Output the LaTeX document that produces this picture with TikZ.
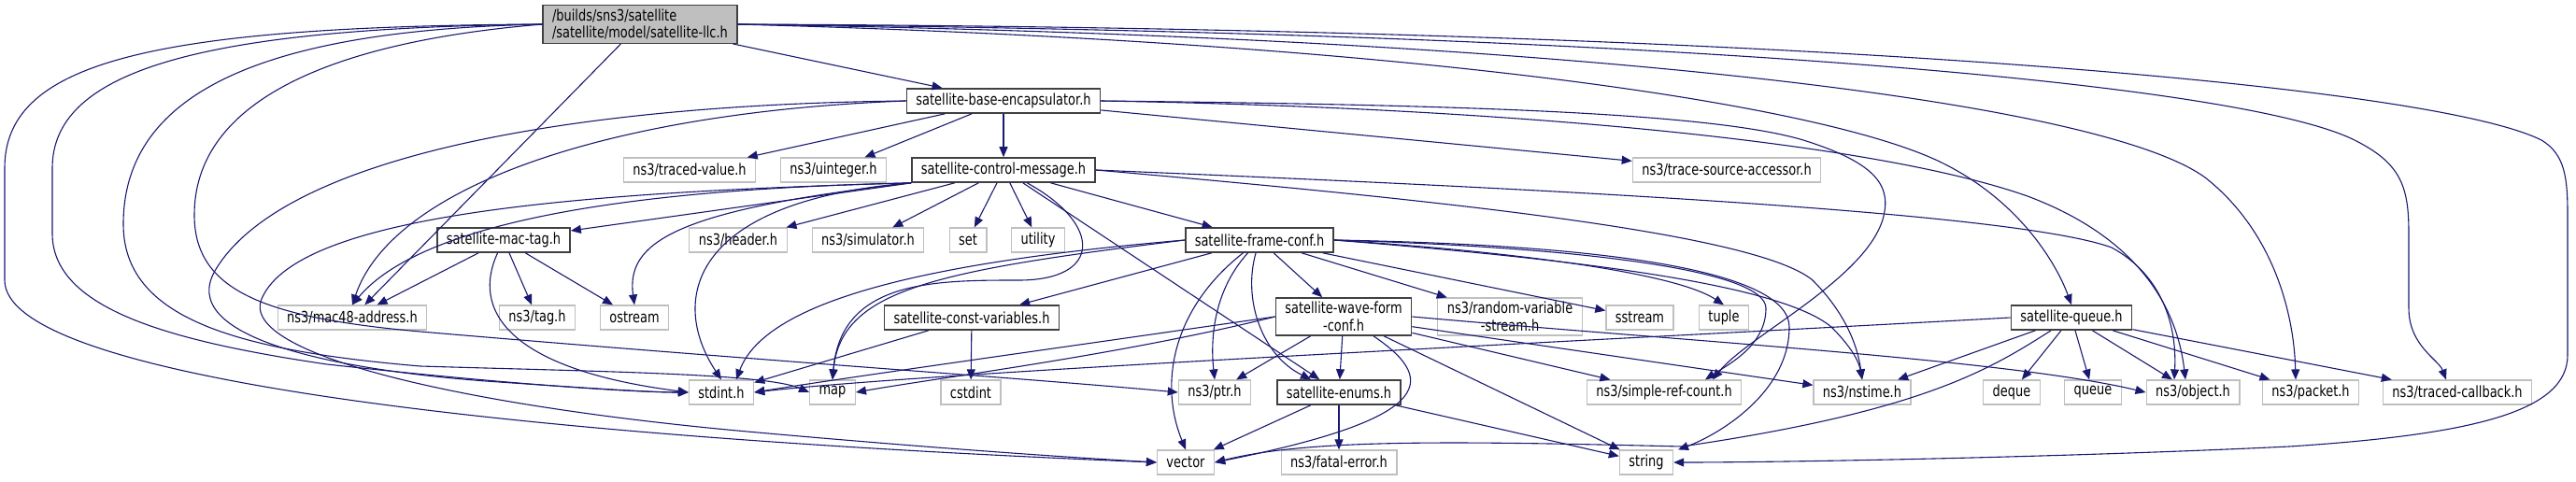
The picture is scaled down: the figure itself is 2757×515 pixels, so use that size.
\documentclass[tikz,border=0pt]{standalone}
\usepackage{fontspec}
\setmainfont{DejaVu Sans}[FakeStretch=0.78]
\usetikzlibrary{arrows.meta}
\definecolor{edgeblue}{HTML}{191970}
\definecolor{boxgrey}{HTML}{BFBFBF}
\definecolor{boxdark}{HTML}{404040}
\tikzstyle{filebox} = [rectangle, minimum height=13pt, inner xsep=5pt, inner ysep=2pt, font=\fontsize{8.3}{9.2}\selectfont, text=black]
\tikzstyle{rootfile} = [filebox, draw=boxdark, fill=boxgrey, line width=0.7pt, align=left]
\tikzstyle{localfile} = [filebox, draw=boxdark, line width=0.8pt, align=center]
\tikzstyle{extfile} = [filebox, draw=boxgrey, line width=0.6pt, align=center]
\tikzstyle{arrow} = [draw=edgeblue, line width=0.55pt, -{Triangle[length=5.5pt,width=4.5pt]}]

\begin{document}
\begin{tikzpicture}[x=0.5pt,y=-0.5pt]
\useasboundingbox (0,0) rectangle (2757,515);
% include graph of satellite-llc.h
\node (root) [rootfile] at (685,26) {/builds/sns3/satellite\\/satellite/model/satellite-llc.h};

\node (baseenc) [localfile] at (1074,108) {satellite-base-encapsulator.h};

\node (tracedval) [extfile] at (738,182) {ns3/traced-value.h};
\node (uinteger) [extfile] at (892,182) {ns3/uinteger.h};
\node (ctrlmsg) [localfile] at (1074,182) {satellite-control-message.h};
\node (tracesrc) [extfile] at (1848,182) {ns3/trace-source-accessor.h};

\node (mactag) [localfile] at (539,257) {satellite-mac-tag.h};
\node (header) [extfile] at (790,257) {ns3/header.h};
\node (simulator) [extfile] at (929,257) {ns3/simulator.h};
\node (setfile) [extfile] at (1036,257) {set};
\node (utility) [extfile] at (1111,257) {utility};
\node (frameconf) [localfile] at (1348,257) {satellite-frame-conf.h};

\node (mac48) [extfile] at (377,340) {ns3/mac48-address.h};
\node (tag) [extfile] at (575,340) {ns3/tag.h};
\node (ostream) [extfile] at (679,340) {ostream};
\node (constvar) [localfile] at (1040,340) {satellite-const-variables.h};
\node (waveform) [localfile, minimum height=20pt] at (1438,339) {satellite-wave-form\\-conf.h};
\node (randvar) [extfile, minimum height=20pt] at (1616,339) {ns3/random-variable\\-stream.h};
\node (sstream) [extfile] at (1755,340) {sstream};
\node (tuple) [extfile] at (1845,340) {tuple};
\node (queue) [localfile] at (2217,340) {satellite-queue.h};

\node (stdint) [extfile] at (772,420) {stdint.h};
\node (map) [extfile] at (891,420) {map};
\node (cstdint) [extfile] at (1039,420) {cstdint};
\node (ptr) [extfile] at (1300,420) {ns3/ptr.h};
\node (enums) [localfile] at (1433,420) {satellite-enums.h};
\node (simpleref) [extfile] at (1781,420) {ns3/simple-ref-count.h};
\node (nstime) [extfile] at (1993,420) {ns3/nstime.h};
\node (deque) [extfile] at (2153,420) {deque};
\node (stdqueue) [extfile] at (2240,420) {queue};
\node (object) [extfile] at (2347,420) {ns3/object.h};
\node (packet) [extfile] at (2473,420) {ns3/packet.h};
\node (tcallback) [extfile] at (2630,420) {ns3/traced-callback.h};

\node (vector) [extfile] at (1269,495) {vector};
\node (fatalerr) [extfile] at (1433,495) {ns3/fatal-error.h};
\node (string) [extfile] at (1762,495) {string};

\draw [arrow] (root) -- (baseenc);
\draw [arrow] (root) -- (mac48);
\draw [arrow] (root.west) .. controls (150,28) and (5,70) .. (5,180) -- (5,300) .. controls (5,400) and (500,465) .. (vector.west);
\draw [arrow] (root.west) .. controls (200,30) and (56,80) .. (56,180) -- (56,250) .. controls (56,330) and (180,365) .. (350,390) .. controls (550,412) and (680,420) .. (stdint.west);
\draw [arrow] (root.west) .. controls (280,32) and (132,100) .. (132,240) .. controls (132,340) and (250,375) .. (450,392) .. controls (650,398) and (820,400) .. (map.west);
\draw [arrow] (root.west) .. controls (350,45) and (208,110) .. (208,230) .. controls (208,310) and (280,340) .. (450,355) .. controls (800,385) and (1100,405) .. (ptr.west);
\draw [arrow] (root.east) .. controls (1500,45) and (1950,110) .. (2080,175) .. controls (2160,215) and (2200,280) .. (queue.north);
\draw [arrow] (root.east) .. controls (1700,40) and (2250,110) .. (2360,190) .. controls (2430,245) and (2455,330) .. ([xshift=-8pt]packet.north);
\draw [arrow] (root.east) .. controls (1800,35) and (2400,90) .. (2520,150) .. controls (2570,175) and (2578,200) .. (2578,250) -- (2578,330) .. controls (2578,370) and (2610,385) .. ([xshift=-6pt]tcallback.north);
\draw [arrow] (root.east) .. controls (1900,30) and (2600,90) .. (2720,150) .. controls (2745,165) and (2748,190) .. (2748,230) -- (2748,380) .. controls (2748,440) and (2650,465) .. (2450,478) .. controls (2200,490) and (1900,495) .. (string.east);

\draw [arrow] (baseenc) -- (tracedval);
\draw [arrow] (baseenc) -- (uinteger);
\draw [arrow] (baseenc) -- (ctrlmsg);
\draw [arrow] (baseenc) -- (tracesrc);
\draw [arrow] (baseenc.west) .. controls (650,120) and (420,200) .. (mac48.north);
\draw [arrow] (baseenc.west) .. controls (600,112) and (300,170) .. (230,290) .. controls (190,360) and (350,395) .. (520,408) .. controls (650,417) and (700,420) .. (stdint.west);
\draw [arrow] (baseenc.east) .. controls (1600,115) and (2000,150) .. (2170,210) .. controls (2290,255) and (2330,330) .. ([xshift=-4pt]object.north);
\draw [arrow] (baseenc.east) .. controls (1550,112) and (1830,120) .. (1930,150) .. controls (2010,175) and (2025,200) .. (2015,235) .. controls (1995,300) and (1870,360) .. ([xshift=26pt]simpleref.north);

\draw [arrow] (ctrlmsg) -- (mactag);
\draw [arrow] (ctrlmsg) -- (header);
\draw [arrow] (ctrlmsg) -- (simulator);
\draw [arrow] (ctrlmsg) -- (setfile);
\draw [arrow] (ctrlmsg) -- (utility);
\draw [arrow] (ctrlmsg) -- (frameconf);
\draw [arrow] (ctrlmsg) -- (enums);
\draw [arrow] (ctrlmsg.south west) .. controls (800,200) and (470,215) .. (mac48.north);
\draw [arrow] (ctrlmsg.south west) .. controls (720,225) and (670,260) .. (ostream.north);
\draw [arrow] (ctrlmsg.south west) .. controls (740,215) and (715,320) .. (stdint.north);
\draw [arrow] (ctrlmsg) .. controls (1180,240) and (1180,300) .. (1090,300) .. controls (1000,300) and (900,300) .. (map.north);
\draw [arrow] (ctrlmsg.south west) .. controls (650,205) and (320,225) .. (280,320) .. controls (255,380) and (500,435) .. (800,462) .. controls (1000,480) and (1150,490) .. (vector.west);
\draw [arrow] (ctrlmsg.east) .. controls (1600,200) and (2150,225) .. (2260,265) .. controls (2315,295) and (2330,350) .. ([xshift=-10pt]object.north);
\draw [arrow] (ctrlmsg.east) .. controls (1550,215) and (1880,250) .. (1940,300) .. controls (1975,335) and (1988,370) .. (nstime.north);

\draw [arrow] (mactag) -- (mac48);
\draw [arrow] (mactag) -- (tag);
\draw [arrow] (mactag) -- (ostream);
\draw [arrow] (mactag) .. controls (505,330) and (540,395) .. (stdint.west);

\draw [arrow] (frameconf) -- (constvar);
\draw [arrow] (frameconf) -- (waveform);
\draw [arrow] (frameconf) -- (randvar);
\draw [arrow] (frameconf) -- (sstream);
\draw [arrow] (frameconf.east) .. controls (1600,268) and (1790,290) .. (tuple.north);
\draw [arrow] (frameconf.east) .. controls (1700,265) and (1890,290) .. (1890,330) .. controls (1890,370) and (1850,390) .. ([xshift=22pt]simpleref.north);
\draw [arrow] (frameconf.east) .. controls (1720,262) and (1915,290) .. (1915,350) .. controls (1915,420) and (1840,465) .. ([xshift=17pt]string.north);
\draw [arrow] (frameconf.east) .. controls (1650,275) and (1900,300) .. (1960,350) .. controls (1985,375) and (1990,390) .. (nstime.north);
\draw [arrow] (frameconf.west) .. controls (1000,280) and (820,320) .. ([xshift=8pt]stdint.north);
\draw [arrow] (frameconf.west) .. controls (1000,290) and (900,310) .. (map.north);
\draw [arrow] (frameconf) .. controls (1300,310) and (1295,360) .. (ptr.north);
\draw [arrow] (frameconf) .. controls (1330,320) and (1350,380) .. ([xshift=-15pt]enums.north);
\draw [arrow] (frameconf) .. controls (1255,330) and (1240,410) .. (vector.north);

\draw [arrow] (constvar) -- (stdint);
\draw [arrow] (constvar) -- (cstdint);

\draw [arrow] (waveform.west) .. controls (1150,370) and (900,405) .. (stdint.east);
\draw [arrow] (waveform.west) .. controls (1200,380) and (1000,405) .. (map.east);
\draw [arrow] (waveform) -- (ptr);
\draw [arrow] (waveform) -- (enums);
\draw [arrow] ([xshift=16pt]waveform.south) .. controls (1545,410) and (1525,450) .. (vector.east);
\draw [arrow] (waveform) -- (string);
\draw [arrow] (waveform) -- (simpleref);
\draw [arrow] (waveform) -- (nstime);
\draw [arrow] (waveform.east) .. controls (1800,365) and (2150,385) .. (object.west);

\draw [arrow] (enums) -- (vector);
\draw [arrow] (enums) -- (fatalerr);
\draw [arrow] (enums) -- (string);

\draw [arrow] (queue.west) .. controls (1700,365) and (1000,398) .. (stdint.east);
\draw [arrow] (queue) -- (nstime);
\draw [arrow] (queue) -- (deque);
\draw [arrow] (queue) -- (stdqueue);
\draw [arrow] (queue) -- (object);
\draw [arrow] (queue) -- (packet);
\draw [arrow] (queue) -- (tcallback);
\draw [arrow] (queue) .. controls (2130,395) and (2060,440) .. (1800,478) .. controls (1550,472) and (1400,470) .. (vector.east);
\end{tikzpicture}
\end{document}
